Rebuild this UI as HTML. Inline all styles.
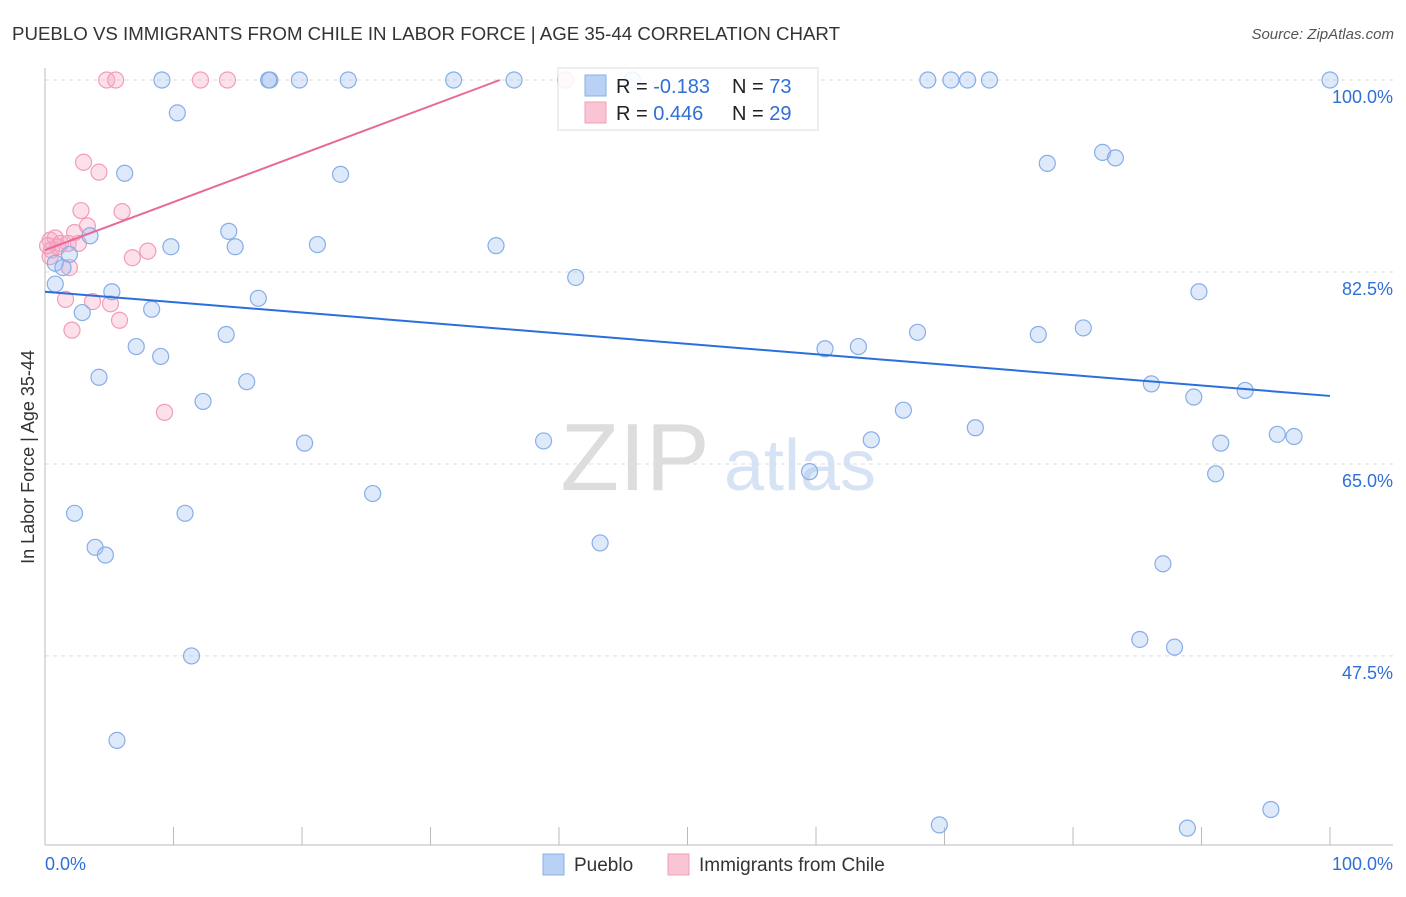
<!DOCTYPE html>
<html><head><meta charset="utf-8"><style>
body{margin:0;background:#fff;font-family:"Liberation Sans",sans-serif}
svg text{font-family:"Liberation Sans",sans-serif}
</style></head><body>
<svg id="chart" width="1406" height="892">
<text x="12" y="40" font-size="18" fill="#333" textLength="828" lengthAdjust="spacingAndGlyphs">PUEBLO VS IMMIGRANTS FROM CHILE IN LABOR FORCE | AGE 35-44 CORRELATION CHART</text>
<text x="1394" y="39" font-size="15" fill="#555" font-style="italic" text-anchor="end">Source: ZipAtlas.com</text>
<g><text x="635" y="490" font-size="96" fill="#ddd" font-family="Liberation Serif" text-anchor="middle">ZIP</text><text x="800" y="490" font-size="72" fill="#d6e3f5" text-anchor="middle">atlas</text></g>
<text transform="translate(34,457) rotate(-90)" font-size="18" fill="#333" text-anchor="middle">In Labor Force | Age 35-44</text>
<g id="grid"></g><g id="marks"></g>
<g>
<rect x="558" y="68" width="260" height="62" fill="#fff" fill-opacity="0.85" stroke="#ddd"/>
<rect x="585" y="75" width="21" height="21" fill="#b8d1f5" stroke="#8ab0e8"/>
<rect x="585" y="102" width="21" height="21" fill="#f9c4d4" stroke="#f0a0b8"/>
<text x="616" y="93" font-size="20" fill="#222">R = <tspan fill="#2f6fd6">-0.183</tspan></text>
<text x="732" y="93" font-size="20" fill="#222">N = <tspan fill="#2f6fd6">73</tspan></text>
<text x="616" y="120" font-size="20" fill="#222">R = <tspan fill="#2f6fd6"> 0.446</tspan></text>
<text x="732" y="120" font-size="20" fill="#222">N = <tspan fill="#2f6fd6">29</tspan></text>
</g>
<g>
<rect x="543" y="854" width="21" height="21" fill="#b8d1f5" stroke="#8ab0e8"/>
<text x="574" y="871" font-size="19" fill="#333">Pueblo</text>
<rect x="668" y="854" width="21" height="21" fill="#f9c4d4" stroke="#f0a0b8"/>
<text x="699" y="871" font-size="19" fill="#333">Immigrants from Chile</text>
</g>
</svg>
<script>
const blueX=[9.1,17.5,17.4,19.8,23.6,31.8,36.5,45.7,68.7,70.5,71.8,73.5,100,10.3,6.2,23.0,78.0,82.3,83.3,3.5,1.9,0.8,1.4,0.8,9.8,14.3,14.8,21.2,35.1,41.3,5.2,2.9,8.3,16.6,89.8,7.1,9.0,14.1,4.2,15.7,12.3,60.7,63.3,67.9,77.3,80.8,86.1,89.4,93.4,66.8,72.4,64.3,20.2,38.8,95.9,97.2,91.5,59.5,91.1,25.5,2.3,10.9,3.9,4.7,43.2,87.0,11.4,85.2,87.9,5.6,69.6,88.9,95.4];
const blueY=[100,100,100,100,100,100,100,100,100,100,100,100,100,97.0,91.5,91.4,92.4,93.4,92.9,85.8,84.1,83.3,82.9,81.4,84.8,86.2,84.8,85.0,84.9,82.0,80.7,78.8,79.1,80.1,80.7,75.7,74.8,76.8,72.9,72.5,70.7,75.5,75.7,77.0,76.8,77.4,72.3,71.1,71.7,69.9,68.3,67.2,66.9,67.1,67.7,67.5,66.9,64.3,64.1,62.3,60.5,60.5,57.4,56.7,57.8,55.9,47.5,49.0,48.3,39.8,32.1,31.8,33.5];
const pinkX=[4.8,5.5,12.1,14.2,40.5,3.0,4.2,2.8,6.0,3.3,2.3,0.4,0.8,1.2,1.8,2.6,8.0,6.8,0.4,1.9,1.6,3.7,5.1,5.8,2.1,9.3,0.5,1.0,0.2];
const pinkY=[100,100,100,100,100,92.5,91.6,88.1,88.0,86.7,86.1,85.4,85.6,85.1,85.1,85.1,84.4,83.8,83.9,82.9,80.0,79.8,79.6,78.1,77.2,69.7,84.5,84.8,84.9];
const blueTrend=[80.7,71.2];
const pinkTrend=[84.5,100,35.4];
const yTicks=[100,82.5,65,47.5];
const xTickLabels=["0.0%","100.0%"];
const NS="http://www.w3.org/2000/svg";
const sx=v=>45+v*12.85, sy=v=>80+(100-v)*10.97;
function mk(t,a,p){const e=document.createElementNS(NS,t);for(const k in a)e.setAttribute(k,a[k]);p.appendChild(e);return e;}
const grid=document.getElementById('grid'),marks=document.getElementById('marks');
yTicks.forEach(v=>{
 const l=mk('line',{x1:45,x2:1393,y1:sy(v),y2:sy(v),stroke:'#ddd','stroke-dasharray':'4,4'},grid);
 
 
 const t=mk('text',{x:1393,y:sy(v)+23,'font-size':18,fill:'#2f6fd6','text-anchor':'end'},grid);t.textContent=v.toFixed(1)+'%';
 
 
});
const ax=mk('line',{x1:45,x2:1393,y1:845,y2:845,stroke:'#bbb'},grid);


const ay=mk('line',{x1:45,x2:45,y1:68,y2:845,stroke:'#bbb'},grid);


for(let i=0;i<=10;i++){const t=mk('line',{x1:sx(i*10),x2:sx(i*10),y1:827,y2:845,stroke:'#bbb'},grid);
 
 }
[[0,'start',45],[1,'end',1393]].forEach(([i,a,x])=>{const t=mk('text',{x:x,y:870,'font-size':18,fill:'#2f6fd6','text-anchor':a},grid);t.textContent=xTickLabels[i];
 
 });
pinkX.forEach((x,i)=>{const c=mk('circle',{cx:sx(x),cy:sy(pinkY[i]),r:8,fill:'rgba(246,170,196,0.35)',stroke:'#f29cb9','stroke-width':1.2},marks);
 
 });
blueX.forEach((x,i)=>{const c=mk('circle',{cx:sx(x),cy:sy(blueY[i]),r:8,fill:'rgba(160,192,240,0.35)',stroke:'#86aee8','stroke-width':1.2},marks);
 
 });
const bl=mk('line',{x1:sx(0),y1:sy(blueTrend[0]),x2:sx(100),y2:sy(blueTrend[1]),stroke:'#2a6fdb','stroke-width':2},marks);


const pl=mk('line',{x1:sx(0),y1:sy(pinkTrend[0]),x2:sx(pinkTrend[2]),y2:sy(pinkTrend[1]),stroke:'#e8689a','stroke-width':2},marks);


</script>
</body></html>
